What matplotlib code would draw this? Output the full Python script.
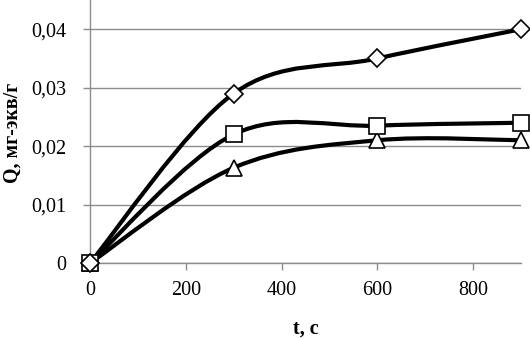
import numpy as np
import matplotlib
matplotlib.use("Agg")
import matplotlib.pyplot as plt
from matplotlib.path import Path
from matplotlib.patches import PathPatch

t = [0, 300, 600, 900]
q_diamond = [0, 0.029, 0.035, 0.040]
q_square = [0, 0.022, 0.0235, 0.024]
q_triangle = [0, 0.0163, 0.021, 0.021]
xticks = [0, 200, 400, 600, 800]
yticks = [0, 0.01, 0.02, 0.03, 0.04]
ytick_labels = ["0", "0,01", "0,02", "0,03", "0,04"]

plt.rcParams['font.family'] = ['Liberation Serif', 'DejaVu Serif']

fig = plt.figure(figsize=(5.30, 3.38), dpi=100)
ax = fig.add_axes([90/530, 1-263/338, (521-90)/530, 263/338])
ax.set_xlim(0, 900)
ax.set_ylim(0, 0.045)


def smooth_path(xs, ys):
    # Excel-style smoothed line: cubic Bezier with Catmull-Rom control points
    p = np.column_stack([xs, ys]).astype(float)
    n = len(p)
    verts = [tuple(p[0])]
    codes = [Path.MOVETO]
    for i in range(n - 1):
        p0 = p[i - 1] if i > 0 else p[i]
        p1 = p[i]
        p2 = p[i + 1]
        p3 = p[i + 2] if i + 2 < n else p[i + 1]
        c1 = p1 + (p2 - p0) / 6.0
        c2 = p2 - (p3 - p1) / 6.0
        verts += [tuple(c1), tuple(c2), tuple(p2)]
        codes += [Path.CURVE4] * 3
    return Path(verts, codes)


for ys, mk, ms in [(q_triangle, '^', 12), (q_square, 's', 11), (q_diamond, 'D', 9.5)]:
    patch = PathPatch(smooth_path(t, ys), facecolor='none', edgecolor='black',
                      lw=3.0, capstyle='round', joinstyle='round', zorder=3)
    ax.add_patch(patch)
    ax.plot(t, ys, linestyle='none', marker=mk, markersize=ms,
            markerfacecolor='white', markeredgecolor='black',
            markeredgewidth=1.2, zorder=4, clip_on=False)

ax.set_xticks(xticks)
ax.set_yticks(yticks)
ax.set_yticklabels(ytick_labels)
ax.grid(axis='y', color='#8c8c8c', lw=1.0)
ax.set_axisbelow(True)
for s in ['top', 'right']:
    ax.spines[s].set_visible(False)
for s in ['left', 'bottom']:
    ax.spines[s].set_color('#8c8c8c')
    ax.spines[s].set_linewidth(1.0)
ax.tick_params(axis='both', direction='out', length=5, color='#8c8c8c',
               labelsize=14.5, width=1.0)
ax.tick_params(axis='y', pad=12)
ax.tick_params(axis='x', pad=8)
ax.set_xlabel('t, с', fontsize=14.5, fontweight='bold', labelpad=13)
ylab = fig.text(12.5/530, 1-133/338, 'Q, мг-экв/г', fontsize=14.5, fontweight='bold',
                rotation=90, ha='center', va='center')

# fit label length to ~100 px as in the reference
fig.canvas.draw()
h = ylab.get_window_extent().height
if h > 0:
    ylab.set_fontsize(14.5 * min(1.0, 100.0 / h))

fig.savefig('out.png', dpi=100)
